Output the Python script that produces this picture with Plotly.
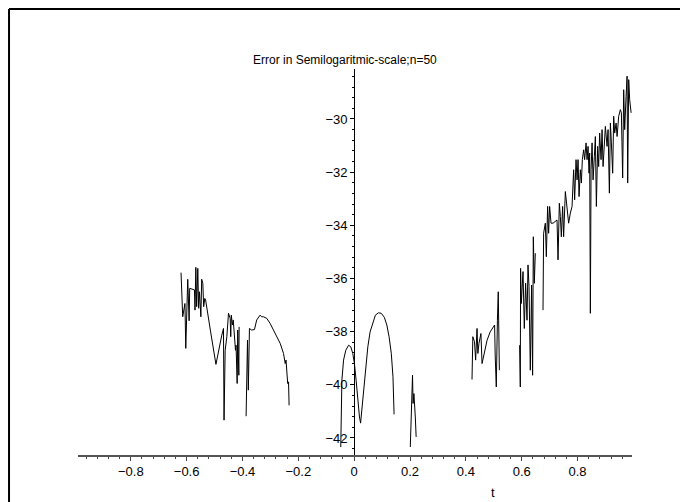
import plotly.graph_objects as go

# Segments of the error curve (log10 of error) versus t; None marks gaps
seg1_t = [-0.620, -0.614, -0.606, -0.603, -0.596, -0.591, -0.589, -0.572, -0.570, -0.567,
          -0.564, -0.560, -0.557, -0.554, -0.549, -0.546, -0.542, -0.539, -0.535, -0.532,
          -0.514, -0.495, -0.474, -0.468, -0.466, -0.462, -0.456, -0.450, -0.444, -0.442,
          -0.440, -0.436, -0.433, -0.428, -0.425, -0.423, -0.419, -0.417, -0.413, -0.412]
seg1_y = [-35.78, -37.44, -36.94, -38.63, -36.03, -37.59, -36.37, -36.43, -37.19, -35.58,
          -37.06, -35.62, -37.12, -36.50, -37.44, -36.03, -36.18, -37.06, -36.75, -36.81,
          -38.01, -39.23, -38.13, -37.88, -41.33, -38.70, -38.19, -37.31, -37.50, -38.19,
          -37.38, -37.75, -37.56, -38.13, -38.70, -38.51, -39.95, -37.94, -39.64, -37.82]

seg2_t = [-0.387, -0.382, -0.379, -0.375, -0.367, -0.357, -0.349, -0.343, -0.337, -0.331,
          -0.325, -0.313, -0.301, -0.289, -0.277, -0.265, -0.253, -0.247, -0.244, -0.241,
          -0.238, -0.235, -0.233]
seg2_y = [-41.18, -38.32, -40.20, -37.88, -37.94, -37.92, -37.56, -37.44, -37.38, -37.44,
          -37.44, -37.50, -37.69, -37.94, -38.19, -38.44, -38.82, -39.20, -39.07, -39.39,
          -39.95, -39.89, -40.77]

seg3_t = [-0.048, -0.044, -0.038, -0.030, -0.020, -0.012, -0.005, 0.001, 0.007, 0.013,
          0.019, 0.023, 0.027, 0.033, 0.041, 0.049, 0.057, 0.067, 0.076, 0.087,
          0.097, 0.108, 0.117, 0.125, 0.133, 0.139, 0.142, 0.143]
seg3_y = [-42.34, -39.83, -39.07, -38.70, -38.51, -38.57, -38.82, -39.20, -39.83, -40.58,
          -41.21, -41.44, -40.96, -40.20, -39.32, -38.57, -38.01, -37.63, -37.38, -37.29,
          -37.31, -37.46, -37.75, -38.19, -38.82, -39.70, -40.58, -41.11]

seg4_t = [0.201, 0.204, 0.207, 0.209, 0.211, 0.214, 0.219, 0.222]
seg4_y = [-42.34, -40.96, -40.27, -39.64, -40.70, -40.33, -41.21, -41.96]

seg5_t = [0.422, 0.425, 0.431, 0.435, 0.440, 0.443, 0.447, 0.452, 0.454, 0.458,
          0.466, 0.476, 0.487, 0.499, 0.503, 0.505, 0.509, 0.513, 0.516, 0.520]
seg5_y = [-39.80, -38.19, -38.38, -39.07, -37.88, -38.82, -38.44, -38.25, -38.07, -39.20,
          -38.82, -38.32, -38.01, -37.82, -37.75, -38.88, -40.08, -37.57, -36.50, -39.45]

seg6_t = [0.5925, 0.5950, 0.5960, 0.5986, 0.6047, 0.6093, 0.6140, 0.6190, 0.6226, 0.6262,
          0.6308, 0.6355, 0.6391, 0.6416, 0.6452, 0.6487]
seg6_y = [-38.51, -40.08, -35.62, -36.94, -35.74, -37.88, -36.18, -37.57, -35.49, -36.31,
          -39.45, -36.25, -39.64, -34.43, -36.18, -35.05]

seg7_t = [0.6763, 0.6785, 0.6846, 0.6882, 0.6928, 0.6964, 0.7000, 0.7050, 0.7122, 0.7204,
          0.7265, 0.7301, 0.7348, 0.7384, 0.7419, 0.7466, 0.7502, 0.7563, 0.7624, 0.7681,
          0.7742, 0.7803, 0.7860, 0.7896, 0.7946, 0.7982, 0.8018, 0.8054, 0.8100, 0.8136,
          0.8172, 0.8219, 0.8254, 0.8305, 0.8341, 0.8376, 0.8412, 0.8434, 0.8459, 0.8484,
          0.8520, 0.8556, 0.8602, 0.8638, 0.8674, 0.8720, 0.8756, 0.8792, 0.8842, 0.8878,
          0.8914, 0.8961, 0.8996, 0.9057, 0.9093, 0.9140, 0.9176, 0.9211, 0.9258, 0.9294,
          0.9330, 0.9380, 0.9416, 0.9473, 0.9534, 0.9570, 0.9616, 0.9652, 0.9688, 0.9738,
          0.9774, 0.9796, 0.9832, 0.9867, 0.9918]
seg7_y = [-37.19, -34.30, -33.92, -35.18, -33.29, -34.30, -33.29, -33.92, -33.92, -33.86,
          -33.80, -35.30, -33.17, -33.67, -34.43, -33.29, -34.43, -32.73, -33.29, -33.92,
          -33.54, -33.29, -31.91, -33.04, -31.53, -32.29, -31.53, -32.92, -31.91, -32.41,
          -31.53, -31.16, -31.53, -30.90, -31.53, -31.03, -32.04, -31.28, -37.31, -31.91,
          -30.90, -32.29, -31.41, -30.66, -33.29, -31.03, -31.79, -30.53, -31.53, -30.40,
          -31.79, -30.90, -30.28, -31.03, -30.40, -32.79, -30.15, -30.90, -32.04, -29.90,
          -30.53, -30.15, -30.66, -29.90, -29.65, -29.77, -32.22, -28.90, -30.40, -29.15,
          -28.39, -32.41, -28.52, -29.27, -29.77]

segments = [(seg1_t, seg1_y), (seg2_t, seg2_y), (seg3_t, seg3_y), (seg4_t, seg4_y),
            (seg5_t, seg5_y), (seg6_t, seg6_y), (seg7_t, seg7_y)]

t_all, y_all = [], []
for ts, ys in segments:
    t_all += ts + [None]
    y_all += ys + [None]

x_range = [-0.989, 0.995]
y_range = [-42.64, -28.12]
x_ticks = [-0.8, -0.6, -0.4, -0.2, 0, 0.2, 0.4, 0.6, 0.8]
y_ticks = [-42, -40, -38, -36, -34, -32, -30]

FONT = "Liberation Sans, Arial, sans-serif"

fig = go.Figure()
fig.add_trace(go.Scatter(x=t_all, y=y_all, mode="lines", connectgaps=False,
                         line=dict(color="black", width=1), showlegend=False,
                         hoverinfo="skip"))

y_pos = (0 - x_range[0]) / (x_range[1] - x_range[0])

fig.update_layout(
    width=680, height=494,
    margin=dict(l=70, r=56, t=61, b=47),
    paper_bgcolor="white", plot_bgcolor="white",
    font=dict(family=FONT, size=13, color="black"),
    xaxis=dict(range=x_range, tickvals=x_ticks, showgrid=False, zeroline=False,
               showline=True, linecolor="#555", linewidth=1.5,
               ticks="outside", ticklen=4, tickcolor="#444",
               minor=dict(dtick=0.04, tick0=0, ticks="outside", ticklen=2,
                          tickcolor="#444", showgrid=False),
               tickfont=dict(size=13, family=FONT)),
    yaxis=dict(range=y_range, tickvals=y_ticks, showgrid=False, zeroline=False,
               showline=True, linecolor="black", linewidth=1,
               anchor="free", position=y_pos,
               ticks="outside", ticklen=4, tickcolor="black",
               minor=dict(dtick=0.4, tick0=0, ticks="outside", ticklen=2,
                          tickcolor="black", showgrid=False),
               tickfont=dict(size=13, family=FONT)),
    annotations=[
        dict(text="Error in Semilogaritmic-scale;n=50", xref="paper", yref="paper",
             x=0.482, y=1.024, xanchor="center", yanchor="middle", showarrow=False,
             font=dict(size=12, family=FONT, color="black")),
        dict(text="t", xref="paper", yref="paper", x=0.749, y=-0.096,
             xanchor="center", yanchor="middle", showarrow=False,
             font=dict(size=13, family=FONT, color="black")),
    ],
    shapes=[
        dict(type="line", xref="paper", yref="paper", x0=-0.1245, x1=-0.1245,
             y0=1.1556, y1=-0.5, line=dict(color="black", width=2)),
        dict(type="line", xref="paper", yref="paper", x0=-0.1245, x1=1.5,
             y0=1.1556, y1=1.1556, line=dict(color="black", width=2)),
    ],
)

fig.write_html("out.html")
